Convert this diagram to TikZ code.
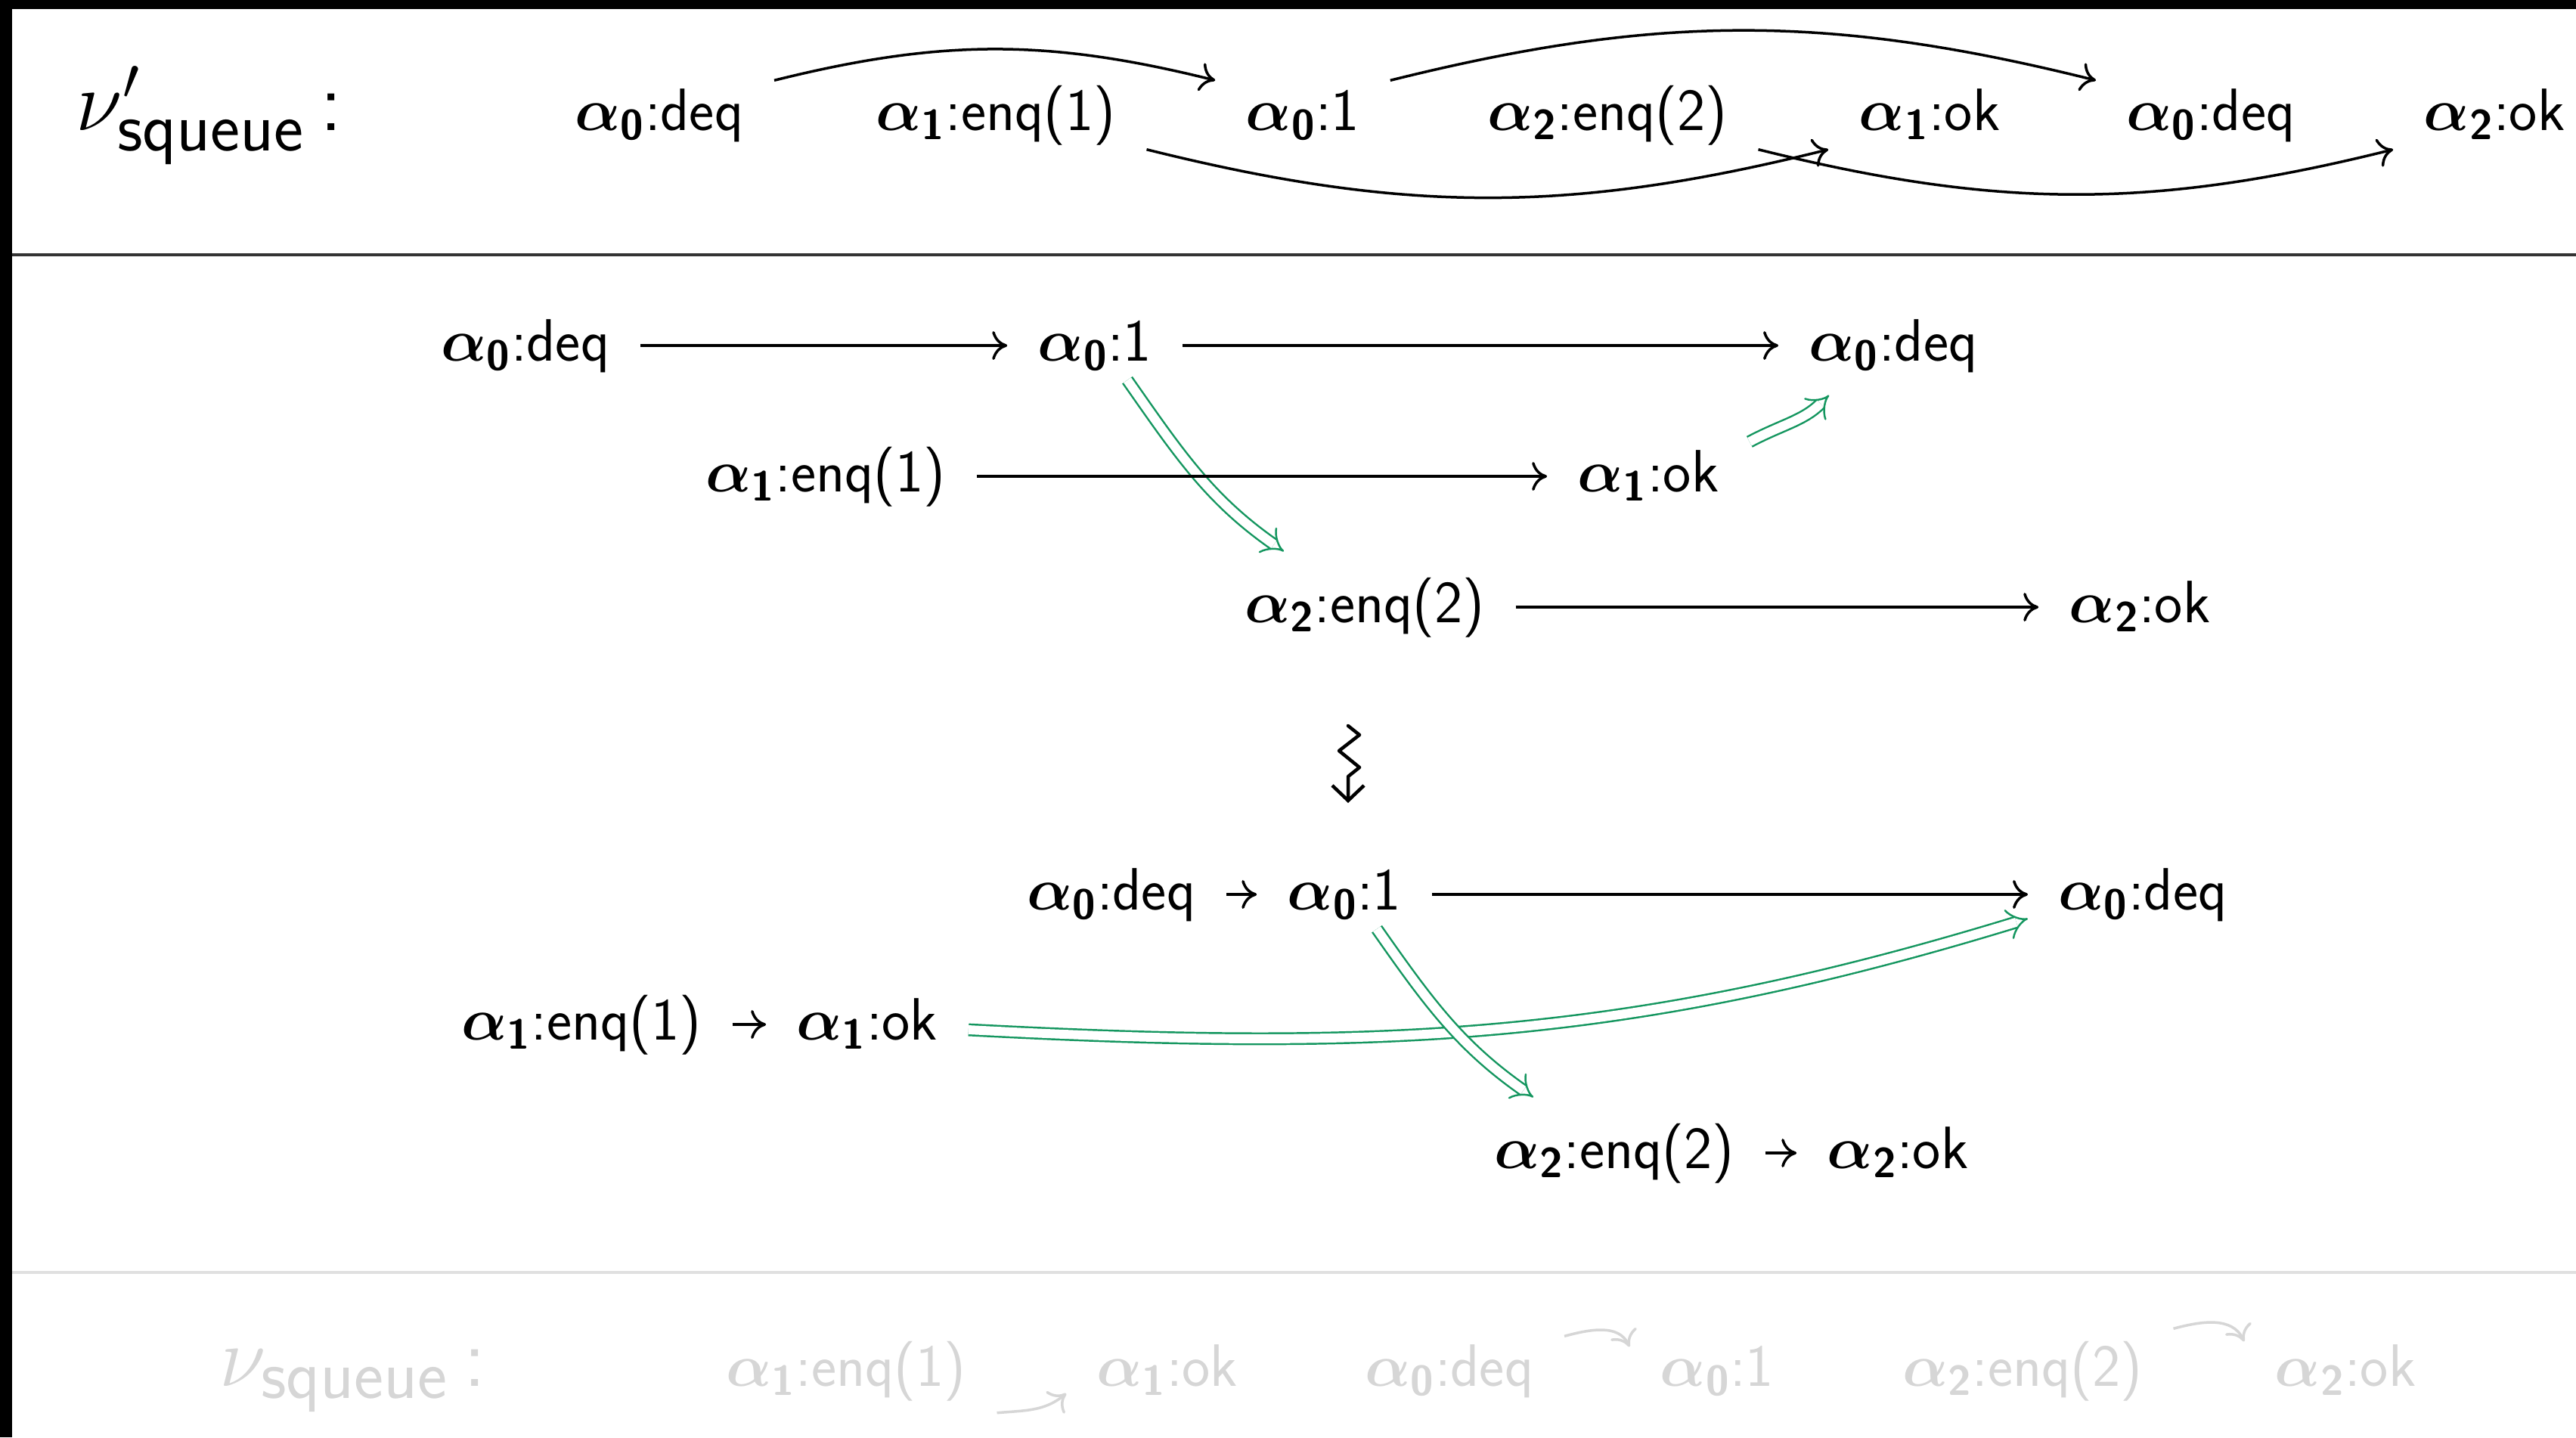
\RequirePackage{fix-cm}
\documentclass[tikz,border=0pt]{standalone}
\usepackage{amsmath}
\usepackage{fontspec}
\usetikzlibrary{arrows.meta,calc}
\definecolor{grn}{RGB}{20,150,95}
\definecolor{fade}{RGB}{214,214,214}
\newcommand{\evt}[2]{$\boldsymbol{\alpha}_{\textbf{#1}}$:#2}
\newcommand{\sqsub}{\text{\fontsize{26.5}{30}\selectfont\sffamily squeue}}
\begin{document}
\begin{tikzpicture}[x=1cm,y=1cm,
  ev/.style={font=\sffamily\fontsize{22.5}{27}\selectfont, anchor=base,
    inner xsep=0.4cm, inner ysep=0.05cm, text height=0.6cm, text depth=0.2cm},
  fev/.style={ev, text=fade},
  lbl/.style={font=\sffamily\fontsize{32}{38}\selectfont, anchor=base west, inner sep=0pt},
  blk/.style={line width=0.035cm, -{Computer Modern Rightarrow[length=0.2cm,width=0.38cm]}},
  fblk/.style={blk, draw=fade},
  gdbl/.style={draw=grn, double=white, line width=0.7pt, double distance=3.4pt, -{Implies}},
  squig/.style={line width=0.045cm, line join=round, line cap=round,
    -{Straight Barb[length=0.2cm,width=0.42cm]}}
]
\useasboundingbox (0,0) rectangle (34.07,-19.01);
\fill[white] (0,0) rectangle (34.07,-19.01);
\fill[black] (0,0) rectangle (34.07,-0.12);
\fill[black] (0,0) rectangle (0.16,-19.01);
\draw[black!80, line width=0.04cm] (0.16,-3.37) -- (34.07,-3.37);
\draw[black!12, line width=0.04cm] (0.16,-16.83) -- (34.07,-16.83);

% ---------- top row ----------
\node[lbl] (tnu) at (1.00,-1.72) {$\nu'_{\sqsub}$\hspace{0.2cm}:};
\node[ev] (t0deq)  at (8.72,-1.72)  {\evt{0}{deq}};
\node[ev] (t1enq)  at (13.17,-1.72) {\evt{1}{enq(1)}};
\node[ev] (t01)    at (17.23,-1.72) {\evt{0}{1}};
\node[ev] (t2enq)  at (21.26,-1.72) {\evt{2}{enq(2)}};
\node[ev] (t1ok)   at (25.52,-1.72) {\evt{1}{ok}};
\node[ev] (t0deq2) at (29.24,-1.72) {\evt{0}{deq}};
\node[ev] (t2ok)   at (32.99,-1.72) {\evt{2}{ok}};
\draw[blk] (t0deq.north east) to[bend left=14] (t01.north west);
\draw[blk] (t01.north east) to[bend left=14] (t0deq2.north west);
\draw[blk] (t1enq.south east) to[bend right=14] (t1ok.south west);
\draw[blk] (t2enq.south east) to[bend right=14] (t2ok.south west);

% ---------- middle ----------
\node[ev] (m0deq)  at (6.95,-4.77)  {\evt{0}{deq}};
\node[ev] (m01)    at (14.48,-4.77) {\evt{0}{1}};
\node[ev] (m0deq2) at (25.04,-4.77) {\evt{0}{deq}};
\node[ev] (m1enq)  at (10.92,-6.50) {\evt{1}{enq(1)}};
\node[ev] (m1ok)   at (21.80,-6.50) {\evt{1}{ok}};
\node[ev] (m2enq)  at (18.05,-8.23) {\evt{2}{enq(2)}};
\node[ev] (m2ok)   at (28.30,-8.23) {\evt{2}{ok}};
\draw[gdbl] ([xshift=0.43cm]m01.south) to[out=-55,in=145] ([xshift=-1.07cm,yshift=0.28cm]m2enq.north);
\draw[gdbl] (m1ok.north east) to[out=28,in=225] ([xshift=-0.85cm,yshift=-0.2cm]m0deq2.south);
\draw[blk] (m0deq) -- (m01);
\draw[blk] (m01) -- (m0deq2);
\draw[blk] (m1enq) -- (m1ok);
\draw[blk] (m2enq) -- (m2ok);

% ---------- squiggly arrow ----------
\coordinate (sqtop) at (17.83,-9.60);
\coordinate (sqbot) at (17.83,-10.62);
\draw[squig] (sqtop) -- ++(0.15,-0.12) -- ++(-0.27,-0.21) -- ++(0.27,-0.22) -- ++(-0.15,-0.12) -- (sqbot);

% ---------- bottom ----------
\node[ev] (b0deq)  at (14.70,-12.03) {\evt{0}{deq}};
\node[ev] (b01)    at (17.78,-12.03) {\evt{0}{1}};
\node[ev] (b0deq2) at (28.34,-12.03) {\evt{0}{deq}};
\node[ev] (b1enq)  at (7.69,-13.75)  {\evt{1}{enq(1)}};
\node[ev] (b1ok)   at (11.47,-13.75) {\evt{1}{ok}};
\node[ev] (b2enq)  at (21.35,-15.45) {\evt{2}{enq(2)}};
\node[ev] (b2ok)   at (25.10,-15.45) {\evt{2}{ok}};
\draw[gdbl] ([yshift=0.13cm]b1ok.base east) to[out=-3,in=197] ([yshift=-0.12cm]b0deq2.base west);
\draw[gdbl] ([xshift=0.43cm]b01.south) to[out=-55,in=145] ([xshift=-1.07cm,yshift=0.28cm]b2enq.north);
\draw[blk] (b0deq) -- (b01);
\draw[blk] (b01) -- (b0deq2);
\draw[blk] (b1enq) -- (b1ok);
\draw[blk] (b2enq) -- (b2ok);

% ---------- faded footer ----------
\node[lbl, text=fade] (fnu) at (2.90,-18.33) {$\nu_{\sqsub}$\hspace{0.2cm}:};
\node[fev] (f1enq) at (11.19,-18.33) {\evt{1}{enq(1)}};
\node[fev] (f1ok)  at (15.44,-18.33) {\evt{1}{ok}};
\node[fev] (f0deq) at (19.17,-18.33) {\evt{0}{deq}};
\node[fev] (f01)   at (22.71,-18.33) {\evt{0}{1}};
\node[fev] (f2enq) at (26.75,-18.33) {\evt{2}{enq(2)}};
\node[fev] (f2ok)  at (31.02,-18.33) {\evt{2}{ok}};
\draw[fblk] ([yshift=-0.1cm]f1enq.south east) to[out=5,in=220] ([yshift=-0.1cm]f1ok.base west);
\draw[fblk] (f0deq.north east) to[out=15,in=115] ([yshift=-0.14cm]f01.north west);
\draw[fblk] ([yshift=0.1cm]f2enq.north east) to[out=15,in=115] ([yshift=-0.07cm]f2ok.north west);
\end{tikzpicture}
\end{document}
